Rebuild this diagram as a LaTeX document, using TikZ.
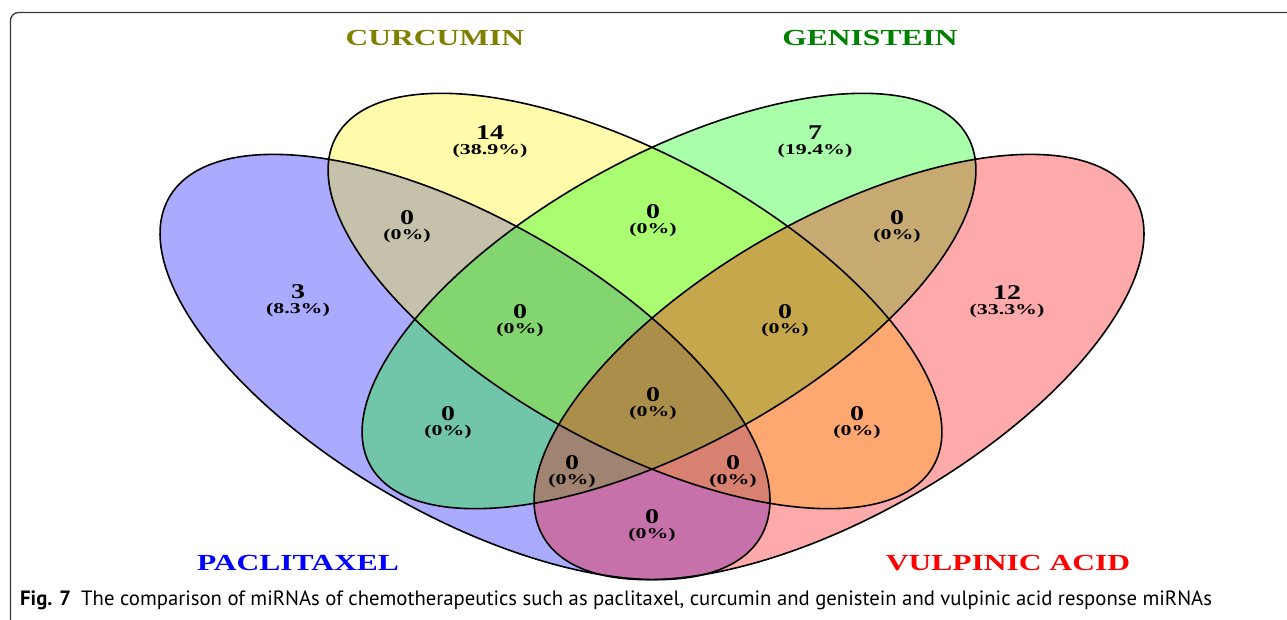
\documentclass[tikz,border=0pt]{standalone}
\usepackage{fontspec}
\setmainfont{Liberation Serif}
\newfontfamily\capfont{PT Sans}
\definecolor{framecol}{RGB}{55,55,55}
\definecolor{curcol}{RGB}{128,128,0}
\definecolor{gencol}{RGB}{0,128,0}
\tikzset{
  vennfill/.style={fill opacity=0.3333},
  vennline/.style={draw=black, line width=1.6pt},
  num/.style={font=\fontsize{21}{21}\selectfont\bfseries, xscale=1.33, inner sep=0pt},
  pct/.style={font=\fontsize{15}{15}\selectfont\bfseries, xscale=1.46, inner sep=0pt},
  setlab/.style={font=\fontsize{23}{23}\selectfont\bfseries, xscale=1.37, inner sep=0pt},
}
\def\oa{341}\def\ob{148}
\def\ia{341}\def\ib{145}
\begin{document}
\begin{tikzpicture}[x=1pt,y=-1pt]
\useasboundingbox (0,0) rectangle (1287,619);
\begin{scope}
\clip (0,0) rectangle (1287,619);
\draw[framecol, line width=1.3pt, rounded corners=8pt] (10.5,660) -- (10.5,12.5) -- (1320,12.5);
\end{scope}
% fills
\fill[blue, vennfill, shift={(465,367)}, rotate=-29.8] (0,0) ellipse [x radius=\oa, y radius=\ob];
\fill[yellow, vennfill, shift={(635,301)}, rotate=-28.8] (0,0) ellipse [x radius=\ia, y radius=\ib];
\fill[green, vennfill, shift={(669,301)}, rotate=28.8] (0,0) ellipse [x radius=\ia, y radius=\ib];
\fill[red, vennfill, shift={(839,367)}, rotate=29.8] (0,0) ellipse [x radius=\oa, y radius=\ob];
% outlines
\draw[vennline, shift={(465,367)}, rotate=-29.8] (0,0) ellipse [x radius=\oa, y radius=\ob];
\draw[vennline, shift={(635,301)}, rotate=-28.8] (0,0) ellipse [x radius=\ia, y radius=\ib];
\draw[vennline, shift={(669,301)}, rotate=28.8] (0,0) ellipse [x radius=\ia, y radius=\ib];
\draw[vennline, shift={(839,367)}, rotate=29.8] (0,0) ellipse [x radius=\oa, y radius=\ob];
% set labels
\node[setlab, text=curcol] (lcur) at (435,38) {CURCUMIN};
\node[setlab, text=gencol] (lgen) at (870,38) {GENISTEIN};
\node[setlab, text=blue] (lpac) at (298,563) {PACLITAXEL};
\node[setlab, text=red] (lvul) at (1008,563) {VULPINIC ACID};
% counts
\node[num] (n1) at (490,133) {14};     \node[pct] (p1) at (490,151) {(38.9\%)};
\node[num] (n2) at (815,133) {7};      \node[pct] (p2) at (815,151) {(19.4\%)};
\node[num] (n3) at (298,292) {3};      \node[pct] (p3) at (298,310) {(8.3\%)};
\node[num] (n4) at (1007,293) {12};    \node[pct] (p4) at (1007,311) {(33.3\%)};
\node[num] (n5) at (407,218) {0};      \node[pct] (p5) at (407,236) {(0\%)};
\node[num] (n6) at (653,211.5) {0};    \node[pct] (p6) at (653,229.5) {(0\%)};
\node[num] (n7) at (897,218) {0};      \node[pct] (p7) at (897,236) {(0\%)};
\node[num] (n8) at (520,311.5) {0};    \node[pct] (p8) at (520,329.5) {(0\%)};
\node[num] (n9) at (785,311.5) {0};    \node[pct] (p9) at (785,329.5) {(0\%)};
\node[num] (n10) at (448,414) {0};     \node[pct] (p10) at (448,432) {(0\%)};
\node[num] (n11) at (857,414) {0};     \node[pct] (p11) at (857,432) {(0\%)};
\node[num] (n12) at (653,395) {0};     \node[pct] (p12) at (653,413) {(0\%)};
\node[num] (n13) at (572,463) {0};     \node[pct] (p13) at (572,481) {(0\%)};
\node[num] (n14) at (733,463) {0};     \node[pct] (p14) at (733,481) {(0\%)};
\node[num] (n15) at (652,516.5) {0};   \node[pct] (p15) at (652,534.5) {(0\%)};
% caption
\node[anchor=base west, inner sep=0pt, font=\capfont\fontsize{20.7}{20.7}\selectfont] (cap) at (20,605)
  {\textbf{Fig. 7}\hspace{10pt}The comparison of miRNAs of chemotherapeutics such as paclitaxel, curcumin and genistein and vulpinic acid response miRNAs};
\end{tikzpicture}
\end{document}
